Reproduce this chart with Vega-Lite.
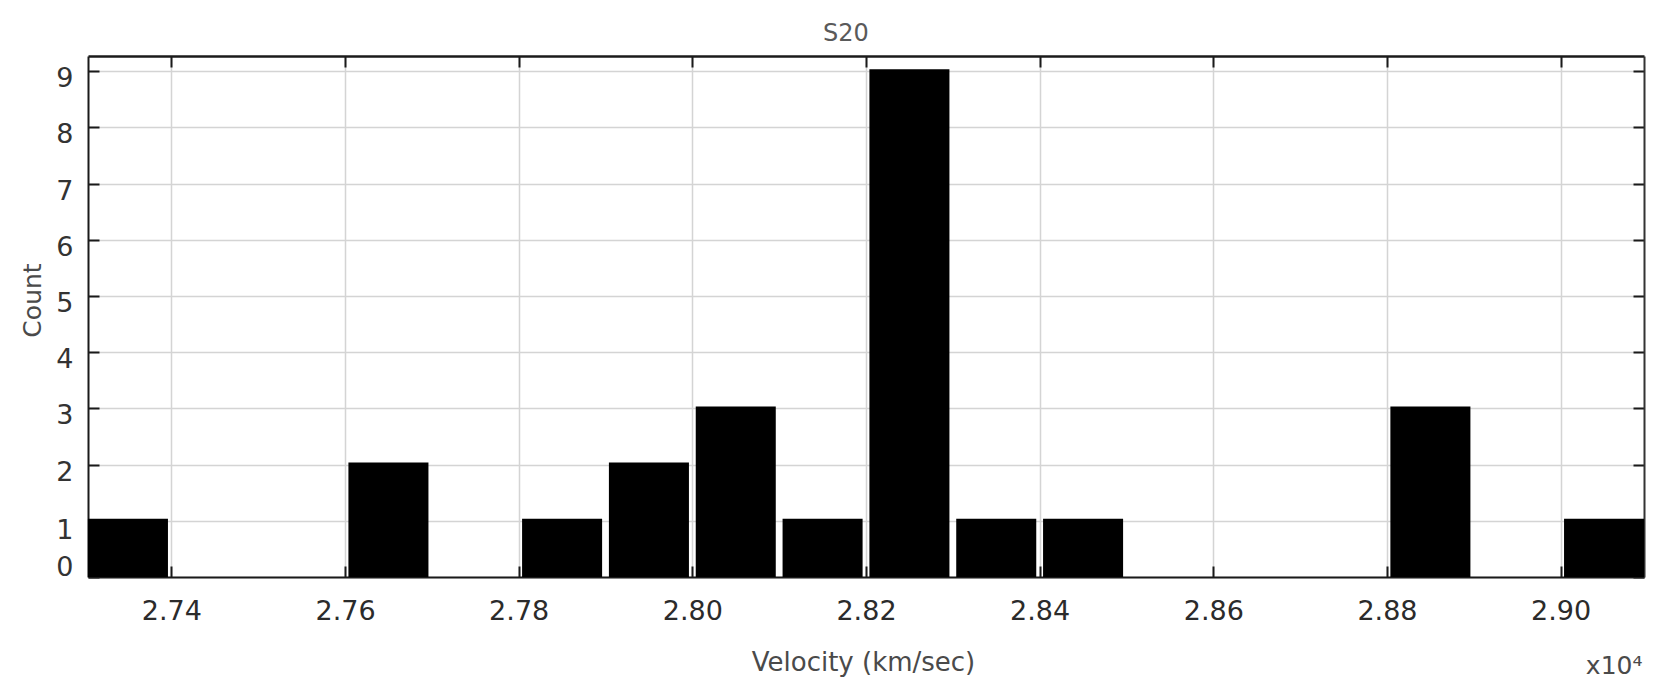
{
  "$schema": "https://vega.github.io/schema/vega-lite/v6.json",
  "width": 1556,
  "height": 521,
  "autosize": {"type": "none"},
  "padding": {"left": 88, "top": 56, "right": 35, "bottom": 104},
  "background": "white",
  "title": {
    "text": "S20",
    "font": "DejaVu Sans",
    "fontSize": 24,
    "fontWeight": "normal",
    "color": "#5a5a5a",
    "anchor": "middle",
    "frame": "group",
    "dx": -20,
    "offset": -10,
    "baseline": "alphabetic"
  },
  "config": {"view": {"stroke": null}},
  "data": {
    "values": [
      {"v_start": 27300, "v_end": 27400, "count": 1},
      {"v_start": 27600, "v_end": 27700, "count": 2},
      {"v_start": 27800, "v_end": 27900, "count": 1},
      {"v_start": 27900, "v_end": 28000, "count": 2},
      {"v_start": 28000, "v_end": 28100, "count": 3},
      {"v_start": 28100, "v_end": 28200, "count": 1},
      {"v_start": 28200, "v_end": 28300, "count": 9},
      {"v_start": 28300, "v_end": 28400, "count": 1},
      {"v_start": 28400, "v_end": 28500, "count": 1},
      {"v_start": 28800, "v_end": 28900, "count": 3},
      {"v_start": 29000, "v_end": 29100, "count": 1}
    ]
  },
  "layer": [
    {
      "mark": {"type": "rect", "color": "black", "xOffset": 3.4, "x2Offset": -3.4, "yOffset": -2},
      "encoding": {
        "x": {
          "field": "v_start",
          "type": "quantitative",
          "scale": {"domain": [27304, 29096], "nice": false, "zero": false},
          "axis": {
            "orient": "bottom",
            "values": [27400, 27600, 27800, 28000, 28200, 28400, 28600, 28800, 29000],
            "labelExpr": "format(datum.value / 10000, '.2f')",
            "title": "Velocity (km/sec)",
            "grid": true,
            "gridColor": "#d4d4d4",
            "gridWidth": 1.5,
            "domainColor": "#1a1a1a",
            "domainWidth": 2,
            "tickColor": "#1a1a1a",
            "tickSize": -11,
            "tickWidth": 2,
            "labelFont": "DejaVu Sans",
            "labelFontSize": 27,
            "labelColor": "#2b2b2b",
            "labelBaseline": "alphabetic",
            "labelPadding": 53,
            "labelFlush": false,
            "labelOverlap": false,
            "titleFont": "DejaVu Sans",
            "titleFontSize": 26,
            "titleFontWeight": "normal",
            "titleColor": "#4a4a4a",
            "titleBaseline": "alphabetic",
            "titleAlign": "center",
            "titleX": 775,
            "titleY": 93
          }
        },
        "x2": {"field": "v_end"},
        "y": {
          "field": "count",
          "type": "quantitative",
          "scale": {"domain": [0, 9.27], "nice": false},
          "axis": {
            "orient": "left",
            "values": [0, 1, 2, 3, 4, 5, 6, 7, 8, 9],
            "title": "Count",
            "grid": true,
            "gridColor": "#d4d4d4",
            "gridWidth": 1.5,
            "domainColor": "#1a1a1a",
            "domainWidth": 2,
            "tickColor": "#1a1a1a",
            "tickSize": -11,
            "tickWidth": 2,
            "labelFont": "DejaVu Sans",
            "labelFontSize": 27,
            "labelColor": "#333333",
            "labelPadding": 26,
            "labelFlush": false,
            "labelOverlap": false,
            "labelOffset": {
              "condition": [
                {"test": "datum.value == 0", "value": -9.5},
                {"test": "datum.value == 1", "value": 9.5}
              ],
              "value": 7.5
            },
            "titleFont": "DejaVu Sans",
            "titleFontSize": 25,
            "titleFontWeight": "normal",
            "titleColor": "#4a4a4a",
            "titleAngle": 270,
            "titleBaseline": "alphabetic",
            "titleAlign": "center",
            "titleX": -48,
            "titleY": 244
          }
        },
        "y2": {"datum": 0}
      }
    },
    {
      "mark": {"type": "rect", "opacity": 0},
      "encoding": {
        "x": {
          "field": "v_start",
          "type": "quantitative",
          "axis": {
            "orient": "top",
            "values": [27400, 27600, 27800, 28000, 28200, 28400, 28600, 28800, 29000],
            "labels": false,
            "grid": false,
            "domainColor": "#1a1a1a",
            "domainWidth": 2.5,
            "tickColor": "#1a1a1a",
            "tickSize": -11,
            "tickWidth": 2,
            "title": "x10⁴",
            "titleFont": "DejaVu Sans",
            "titleFontSize": 25,
            "titleFontWeight": "normal",
            "titleColor": "#4a4a4a",
            "titleBaseline": "alphabetic",
            "titleAlign": "right",
            "titleAngle": 0,
            "titleX": 1554,
            "titleY": 617
          }
        },
        "x2": {"field": "v_end"},
        "y": {
          "field": "count",
          "type": "quantitative",
          "axis": {
            "orient": "right",
            "values": [0, 1, 2, 3, 4, 5, 6, 7, 8, 9],
            "labels": false,
            "grid": false,
            "title": null,
            "domainColor": "#333333",
            "domainWidth": 2,
            "tickColor": "#1a1a1a",
            "tickSize": -11,
            "tickWidth": 2
          }
        },
        "y2": {"datum": 0}
      }
    }
  ],
  "resolve": {"axis": {"x": "independent", "y": "independent"}}
}
